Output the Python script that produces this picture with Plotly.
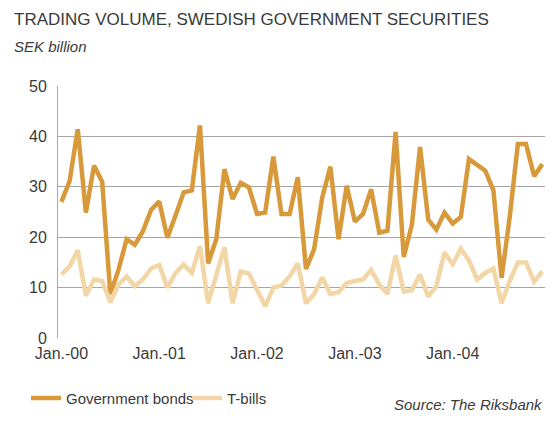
import plotly.graph_objects as go

months = list(range(60))
tick_positions = [0, 12, 24, 36, 48]
tick_labels = ["Jan.-00", "Jan.-01", "Jan.-02", "Jan.-03", "Jan.-04"]

government_bonds = [
    27.0, 31.1, 41.4, 24.9, 34.2, 31.0, 8.7, 13.5, 19.6, 18.5, 21.2, 25.4,
    27.1, 19.9, 24.3, 28.9, 29.3, 42.2, 14.8, 19.6, 33.5, 27.6, 30.8, 29.9,
    24.6, 24.9, 36.0, 24.6, 24.6, 31.9, 13.7, 17.6, 27.9, 34.0, 19.6, 30.2,
    23.1, 24.6, 29.5, 20.9, 21.3, 40.9, 16.1, 22.5, 37.9, 23.5, 21.5, 24.9,
    22.7, 24.0, 35.5, 34.3, 33.2, 29.3, 11.9, 24.0, 38.5, 38.5, 32.1, 34.5,
]
t_bills = [
    12.6, 14.2, 17.4, 8.4, 11.6, 11.3, 7.1, 10.6, 12.2, 10.3, 11.6, 13.8,
    14.5, 10.0, 12.9, 14.6, 12.9, 18.2, 6.9, 12.5, 18.0, 6.9, 13.2, 12.8,
    9.7, 6.3, 10.0, 10.4, 12.2, 14.8, 6.9, 8.7, 12.0, 8.7, 9.1, 10.9,
    11.3, 11.6, 13.5, 10.6, 8.7, 16.4, 9.2, 9.5, 12.6, 8.2, 10.3, 17.0,
    14.6, 17.7, 15.4, 11.6, 12.9, 13.8, 6.9, 11.3, 15.0, 15.0, 11.2, 13.2,
]

FONT = "Liberation Sans"
TXT = "#3a3a3a"
PW, PH = 487, 259  # plot area size in px

fig = go.Figure()
fig.add_trace(go.Scatter(x=months, y=government_bonds, mode="lines",
                         name="Government bonds", legend="legend",
                         line=dict(color="#D7993A", width=4.5)))
fig.add_trace(go.Scatter(x=months, y=t_bills, mode="lines",
                         name="T-bills", legend="legend2",
                         line=dict(color="#F2D6A6", width=4.5)))

legend_common = dict(orientation="h", y=-(390-345)/PH, xanchor="left", yanchor="top",
                     font=dict(size=15, color=TXT), itemwidth=30,
                     bgcolor="rgba(0,0,0,0)")

fig.update_layout(
    width=555, height=425,
    margin=dict(l=58, r=10, t=86, b=80),
    paper_bgcolor="white", plot_bgcolor="white",
    font=dict(family=FONT, color=TXT, size=15),
    showlegend=True,
    legend=dict(x=-32/PW, **legend_common),
    legend2=dict(x=129/PW, **legend_common),
    xaxis=dict(range=[-0.42, 59.33], tickmode="array",
               tickvals=tick_positions, ticktext=tick_labels,
               showgrid=False, zeroline=False, showline=False,
               ticks="", ticklabelstandoff=4, tickfont=dict(size=16, color=TXT)),
    yaxis=dict(range=[0, 50], tickvals=[0, 10, 20, 30, 40, 50],
               showgrid=True, gridcolor="#A6A6A6", gridwidth=1,
               zeroline=False, showline=True, linecolor="#A6A6A6",
               ticks="", ticklen=0, ticklabelstandoff=7,
               tickfont=dict(size=16, color=TXT)),
    annotations=[
        dict(text="TRADING VOLUME, SWEDISH GOVERNMENT SECURITIES",
             xref="paper", yref="paper", x=-46/PW, y=1 + (86-18)/PH,
             xanchor="left", yanchor="middle", showarrow=False,
             font=dict(size=17, color=TXT, family=FONT)),
        dict(text="<i>SEK billion</i>",
             xref="paper", yref="paper", x=-46/PW, y=1 + (86-45)/PH,
             xanchor="left", yanchor="middle", showarrow=False,
             font=dict(size=15, color=TXT, family=FONT)),
        dict(text="<i>Source: The Riksbank</i>",
             xref="paper", yref="paper", x=1.0, y=-(413-345)/PH,
             xanchor="right", yanchor="middle", showarrow=False,
             font=dict(size=15, color=TXT, family=FONT)),
    ],
)

fig.write_html("out.html", config={"displayModeBar": False},
               post_script="document.body.style.margin='0';document.body.style.padding='0';")
